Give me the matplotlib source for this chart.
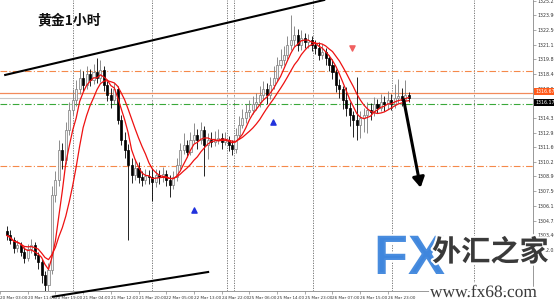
import matplotlib
matplotlib.use("Agg")
import matplotlib.pyplot as plt
import matplotlib.patheffects as pe
import pandas as pd

plt.rcParams['font.family'] = ['Noto Sans CJK SC', 'DejaVu Sans']

# hourly gold candles
first_open = 1303.8
closes = [1303.4, 1303.0, 1302.2, 1302.5, 1301.9, 1301.3, 1302.1, 1302.5, 1301.6, 1300.9,
          1299.7, 1298.8, 1300.2, 1307.2, 1308.6, 1311.4, 1310.4, 1313.2, 1315.1, 1316.0,
          1317.0, 1318.1, 1317.4, 1318.4, 1317.9, 1318.6, 1318.1, 1318.8, 1317.4, 1316.5,
          1316.0, 1317.0, 1314.2, 1312.3, 1311.4, 1310.0, 1309.0, 1309.7, 1308.8, 1308.6,
          1308.9, 1308.8, 1308.4, 1309.0, 1308.8, 1309.1, 1308.6, 1308.1, 1308.8, 1310.0,
          1311.4, 1311.8, 1311.2, 1312.3, 1312.8, 1312.3, 1313.2, 1311.8, 1312.3, 1312.1,
          1312.3, 1312.5, 1312.1, 1312.3, 1311.8, 1311.5, 1312.8, 1313.7, 1314.3, 1314.9,
          1315.1, 1315.6, 1315.8, 1316.5, 1317.0, 1316.5, 1317.4, 1318.1, 1319.3, 1319.7,
          1320.2, 1321.1, 1321.6, 1322.1, 1321.1, 1321.8, 1321.4, 1321.6, 1321.1, 1320.9,
          1320.2, 1320.5, 1319.9, 1319.3, 1318.6, 1317.4, 1317.0, 1316.0, 1315.3, 1314.6,
          1314.2, 1313.7, 1314.3, 1314.6, 1315.1, 1314.9, 1315.6, 1315.3, 1315.8, 1315.6,
          1316.0, 1315.6, 1316.2, 1316.4, 1316.0, 1316.5, 1316.17]
highs = [1304.3, 1303.9, 1303.3, 1303.0, 1302.8, 1302.3, 1302.6, 1303.1, 1302.8, 1301.9,
         1301.2, 1300.1, 1300.8, 1308.0, 1309.4, 1312.3, 1312.0, 1314.0, 1315.8, 1317.0,
         1317.9, 1318.9, 1318.7, 1319.2, 1318.9, 1319.4, 1319.9, 1319.7, 1319.2, 1317.8,
         1317.1, 1317.6, 1317.3, 1314.6, 1313.0, 1311.9, 1310.6, 1310.5, 1310.2, 1309.4,
         1309.6, 1309.5, 1309.7, 1309.6, 1309.5, 1309.8, 1309.5, 1309.0, 1309.4, 1310.6,
         1312.0, 1312.9, 1312.3, 1313.0, 1313.9, 1313.3, 1314.0, 1313.6, 1312.9, 1313.0,
         1313.1, 1313.3, 1312.9, 1313.0, 1312.7, 1312.3, 1313.4, 1314.5, 1315.2, 1315.6,
         1316.0, 1316.4, 1316.7, 1317.3, 1317.8, 1317.6, 1318.2, 1319.2, 1320.0, 1320.8,
         1321.0, 1322.0, 1323.9, 1322.9, 1322.6, 1322.5, 1322.3, 1322.2, 1322.0, 1321.6,
         1321.4, 1321.2, 1320.9, 1320.2, 1319.8, 1318.9, 1318.0, 1317.3, 1317.2, 1315.8,
         1315.0, 1318.2, 1315.0, 1315.3, 1315.8, 1315.7, 1316.3, 1316.1, 1316.6, 1316.4,
         1316.9, 1316.6, 1317.5, 1318.0, 1317.1, 1317.9, 1316.8]
lows = [1303.0, 1302.6, 1301.8, 1301.9, 1301.5, 1300.8, 1301.0, 1301.8, 1301.2, 1300.3,
        1299.0, 1297.6, 1297.9, 1299.8, 1306.5, 1308.0, 1309.6, 1310.1, 1312.8, 1314.6,
        1315.5, 1316.6, 1316.9, 1317.0, 1317.3, 1317.5, 1317.6, 1317.7, 1316.9, 1315.9,
        1315.3, 1315.6, 1313.8, 1311.8, 1310.6, 1303.0, 1308.3, 1308.6, 1308.3, 1308.0,
        1308.2, 1308.2, 1306.6, 1307.9, 1308.2, 1308.4, 1308.0, 1307.0, 1307.7, 1308.5,
        1309.6, 1311.0, 1310.7, 1310.9, 1312.0, 1311.5, 1311.9, 1308.9, 1310.5, 1311.6,
        1311.7, 1311.9, 1311.5, 1311.8, 1311.3, 1310.9, 1311.1, 1312.4, 1313.4, 1313.9,
        1314.4, 1314.7, 1315.1, 1315.4, 1316.0, 1315.6, 1316.1, 1317.0, 1317.8, 1319.0,
        1319.3, 1319.8, 1320.7, 1321.0, 1320.6, 1320.7, 1320.9, 1320.9, 1320.6, 1320.3,
        1319.7, 1319.8, 1319.3, 1318.7, 1318.0, 1316.8, 1316.2, 1315.2, 1314.5, 1313.6,
        1312.6, 1312.3, 1312.5, 1313.0, 1312.9, 1314.2, 1314.5, 1314.8, 1315.0, 1315.0,
        1315.2, 1315.1, 1315.3, 1315.7, 1315.5, 1315.7, 1315.8]
opens = [first_open] + closes[:-1]

# axis labels
price_ticks = [1302.05, 1303.40, 1304.75, 1306.15, 1307.50, 1308.90, 1310.25, 1311.60,
               1312.95, 1314.35, 1315.70, 1317.05, 1318.40, 1319.80, 1321.15, 1322.50,
               1323.90, 1325.25]
time_pos = [-2, 6, 14, 22, 30, 38, 46, 54, 62, 70, 78, 86, 94, 102, 110]
time_labels = ["20 Mar 03:00", "20 Mar 11:00", "20 Mar 19:00", "21 Mar 04:00", "21 Mar 12:00",
               "21 Mar 20:00", "22 Mar 05:00", "22 Mar 13:00", "24 Mar 22:00", "25 Mar 06:00",
               "25 Mar 14:00", "25 Mar 23:00", "26 Mar 07:00", "26 Mar 15:00", "26 Mar 23:00"]

# drawn objects
day_separators = [19, 42, 63.5, 65.5, 88.3, 111.3, 135]
levels_dashdot_orange = [1318.7, 1309.9]
level_green = 1315.6
ask_price = 1316.67
bid_price = 1316.17
upper_trend_x = [-0.5, 91.6]
upper_trend_y = [1318.35, 1325.33]
lower_trend_x = [13.3, 58.1]
lower_trend_y = [1297.7, 1300.0]
arrow_start = (114.4, 1316.3)
arrow_end = (119.6, 1307.6)
buy_signal_x = [76.7, 53.9]
buy_signal_y = [1313.97, 1305.8]
sell_signal_x = [99.6]
sell_signal_y = [1320.9]

fig = plt.figure(figsize=(5.54, 3.07), dpi=100)
ax = fig.add_axes([0, 16 / 307, 533 / 554, 291 / 307])
ax.set_xlim(-0.43, 151.9)
ax.set_ylim(1298.23, 1325.33)

for x in day_separators:
    ax.axvline(x, color="#666666", lw=0.6, ls=(0, (1.5, 1.5)), zorder=1)

for lv in levels_dashdot_orange:
    ax.axhline(lv, color="#f5894a", lw=0.8, ls=(0, (6, 2, 1, 2)), zorder=1)
ax.axhline(level_green, color="#3aa83a", lw=0.8, ls=(0, (6, 2, 1, 2)), zorder=1)
ax.axhline(bid_price, color="#c8c8c8", lw=0.8, zorder=1)
ax.axhline(ask_price, color="#f28a5a", lw=0.9, zorder=1)

# candles
for i, (o, h, l, c) in enumerate(zip(opens, highs, lows, closes)):
    up = c >= o
    col = "#7a7a7a" if up else "black"
    ax.vlines(i, l, h, color=col, lw=0.6, zorder=2)
    body = max(abs(c - o), 0.05)
    ax.bar(i, body, bottom=min(o, c), width=0.6,
           color="#f4f4f4" if up else "black", edgecolor=col, lw=0.5, zorder=3)

s = pd.Series(closes)
ax.plot(s.rolling(5, min_periods=1).mean(), color="#ee1111", lw=0.9, zorder=4)
ax.plot(s.rolling(10, min_periods=1).mean(), color="#ee1111", lw=0.9, zorder=4)

# trend lines and arrow
ax.plot(upper_trend_x, upper_trend_y, color="black", lw=1.5, zorder=5)
ax.plot(lower_trend_x, lower_trend_y, color="black", lw=1.5, zorder=5, clip_on=False)
ax.annotate("", xy=arrow_end, xytext=arrow_start,
            arrowprops=dict(arrowstyle="-|>,head_length=0.6,head_width=0.35",
                            color="black", lw=2.2), zorder=6)

ax.scatter(buy_signal_x, buy_signal_y, marker="^", s=14, color="#2233dd", zorder=6)
ax.scatter(sell_signal_x, sell_signal_y, marker="v", s=14, color="#f06060", zorder=6)

# axes styling
for sp in ["left", "top"]:
    ax.spines[sp].set_visible(False)
ax.spines["right"].set_color("#888888")
ax.spines["bottom"].set_color("#888888")
ax.spines["right"].set_linewidth(0.6)
ax.spines["bottom"].set_linewidth(0.6)
ax.yaxis.tick_right()
ax.set_yticks(price_ticks)
ax.set_yticklabels([f"{p:.2f}" for p in price_ticks], fontsize=3.4, color="#333333",
                   family="DejaVu Sans")
ax.set_xticks(time_pos)
ax.set_xticklabels(time_labels, fontsize=3.0, color="#333333", ha="left",
                   family="DejaVu Sans")
ax.tick_params(length=2, width=0.5, color="#888888", pad=1.5)

# current price boxes
tr = ax.get_yaxis_transform()
ax.text(1.004, ask_price + 0.1, f"{ask_price:.2f}", transform=tr, fontsize=3.4, color="white",
        va="center", ha="left", family="DejaVu Sans",
        bbox=dict(boxstyle="square,pad=0.2", fc="#ff5a1a", ec="none"), zorder=10)
ax.text(1.004, bid_price - 0.35, f"{bid_price:.2f}", transform=tr, fontsize=3.4, color="white",
        va="center", ha="left", family="DejaVu Sans",
        bbox=dict(boxstyle="square,pad=0.2", fc="black", ec="none"), zorder=10)

fig.text(37 / 554, 1 - 20 / 307, "黄金1小时", fontsize=10, fontweight="bold",
         va="center", ha="left", color="#111111")

# watermark
glow = [pe.withStroke(linewidth=3, foreground="white")]
fig.text(374 / 554, 1 - 260 / 307, "FX", fontsize=40, fontweight="bold",
         color="#3f86dd", va="center", ha="left", family="Liberation Sans",
         path_effects=glow, alpha=0.95)
fig.text(432 / 554, 1 - 252 / 307, "外汇之家", fontsize=21, fontweight="bold",
         color="#3a3a3a", va="center", ha="left", path_effects=glow)
fig.text(430 / 554, 1 - 293 / 307, "www.fx68.com", fontsize=12.5, color="#3a3a3a",
         va="center", ha="left", family="Liberation Serif", path_effects=glow)

fig.savefig("out.png", dpi=100, facecolor="white")
